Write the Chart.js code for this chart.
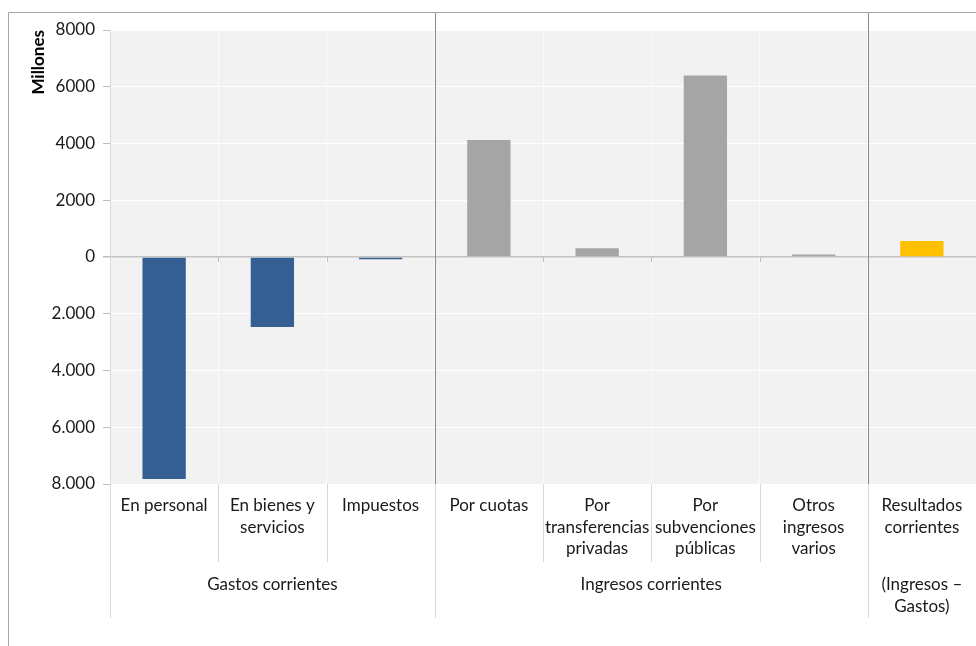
<!DOCTYPE html>
<html>
<head>
<meta charset="utf-8">
<script src="https://cdn.jsdelivr.net/npm/chart.js@4.4.1/dist/chart.umd.min.js"></script>
<style>
    html, body { margin: 0; padding: 0; background: #ffffff; }
    #wrap { width: 976px; height: 646px; position: relative; }
</style>
</head>
<body>
<div id="wrap"><canvas id="chart"></canvas></div>
<script>
// Chart data
const categories = [
    ['En personal'],
    ['En bienes y', 'servicios'],
    ['Impuestos'],
    ['Por cuotas'],
    ['Por', 'transferencias', 'privadas'],
    ['Por', 'subvenciones', 'públicas'],
    ['Otros', 'ingresos', 'varios'],
    ['Resultados', 'corrientes']
];
const values = [-7820, -2470, -80, 4120, 310, 6400, 90, 560];
const barColors = ['#355e92', '#355e92', '#355e92', '#a5a5a5', '#a5a5a5', '#a5a5a5', '#a5a5a5', '#ffc000'];

// Second row of the category axis
const groupLabels = [['Gastos corrientes'], ['Ingresos corrientes'], ['(Ingresos –', 'Gastos)']];
const groupFirst = [0, 3, 7];
const groupLast = [2, 6, 7];

const yMin = -8000;
const yMax = 8000;
const yStep = 2000;

const FONT = 'Lato, "Open Sans", sans-serif';
Chart.defaults.font.family = FONT;
Chart.defaults.color = '#1a1a1a';

// Background, group rows, separators and frame
const decorPlugin = {
    id: 'decor',
    beforeDraw(chart) {
        const { ctx, chartArea } = chart;
        ctx.save();
        ctx.fillStyle = '#f2f2f2';
        ctx.fillRect(chartArea.left, chartArea.top, chartArea.right - chartArea.left, chartArea.bottom - chartArea.top);
        ctx.restore();
    },
    afterDraw(chart) {
        const { ctx, chartArea } = chart;
        const x = chart.scales.x;
        const y = chart.scales.y;
        const colW = (chartArea.right - chartArea.left) / categories.length;
        const edge = i => x.getPixelForValue(i) - colW / 2;
        const zeroY = y.getPixelForValue(0);
        const frameTop = chartArea.top - 18;
        const frameLeft = chartArea.left - 102;

        ctx.save();
        ctx.lineWidth = 1;

        // small ticks under the zero line
        ctx.strokeStyle = '#bfbfbf';
        for (let i = 1; i <= categories.length; i++) {
            const px = Math.round(edge(i)) + 0.5;
            ctx.beginPath();
            ctx.moveTo(px, zeroY);
            ctx.lineTo(px, zeroY + 5);
            ctx.stroke();
        }

        // separators in the label rows
        ctx.strokeStyle = '#d9d9d9';
        for (let i = 0; i < categories.length; i++) {
            const isGroupStart = groupFirst.includes(i);
            const px = Math.round(edge(i)) + 0.5;
            ctx.beginPath();
            ctx.moveTo(px, chartArea.bottom);
            ctx.lineTo(px, chartArea.bottom + (isGroupStart ? 134 : 78));
            ctx.stroke();
        }

        // dark group separators across the plot
        ctx.strokeStyle = '#8c8c8c';
        groupFirst.slice(1).forEach(i => {
            const px = Math.round(edge(i)) + 0.5;
            ctx.beginPath();
            ctx.moveTo(px, frameTop);
            ctx.lineTo(px, chartArea.bottom);
            ctx.stroke();
        });

        // group labels
        ctx.fillStyle = '#1a1a1a';
        ctx.font = '17px ' + FONT;
        ctx.textAlign = 'center';
        ctx.textBaseline = 'middle';
        groupLabels.forEach((lines, g) => {
            const cx = (edge(groupFirst[g]) + edge(groupLast[g] + 1)) / 2;
            lines.forEach((t, k) => {
                ctx.fillText(t, cx, chartArea.bottom + 101 + k * 21.5);
            });
        });

        // outer frame
        ctx.strokeStyle = '#a6a6a6';
        ctx.beginPath();
        ctx.moveTo(frameLeft + 0.5, chart.height);
        ctx.lineTo(frameLeft + 0.5, frameTop + 0.5);
        ctx.lineTo(chart.width, frameTop + 0.5);
        ctx.stroke();
        ctx.restore();
    }
};

const ctx = document.getElementById('chart').getContext('2d');
new Chart(ctx, {
    type: 'bar',
    data: {
        labels: categories,
        datasets: [{
            data: values,
            backgroundColor: barColors,
            borderWidth: 0,
            categoryPercentage: 1.0,
            barPercentage: 0.4
        }]
    },
    options: {
        responsive: true,
        maintainAspectRatio: false,
        animation: false,
        layout: {
            padding: { top: 30, right: 0, bottom: 0, left: 0 }
        },
        plugins: {
            legend: { display: false },
            tooltip: { enabled: false }
        },
        scales: {
            x: {
                offset: true,
                border: { display: false },
                grid: {
                    display: true,
                    offset: true,
                    color: '#fbfbfb',
                    drawTicks: false
                },
                ticks: {
                    autoSkip: false,
                    maxRotation: 0,
                    padding: 11,
                    color: '#1a1a1a',
                    font: { size: 17, lineHeight: 1.27 }
                },
                afterFit(scale) {
                    scale.height = 162;
                }
            },
            y: {
                min: yMin,
                max: yMax,
                border: { display: true, color: '#d9d9d9' },
                grid: {
                    color: c => (c.tick.value === 0 ? '#c4c4c4' : '#ffffff'),
                    lineWidth: c => (c.tick.value === 0 ? 1.5 : 1),
                    tickColor: '#bfbfbf',
                    tickLength: 7
                },
                ticks: {
                    stepSize: yStep,
                    padding: 8,
                    color: '#1a1a1a',
                    font: { size: 17 },
                    callback: v => (v < 0 ? Math.abs(v).toLocaleString('de-DE') : String(v))
                },
                title: {
                    display: true,
                    text: 'Millones',
                    align: 'end',
                    color: '#000000',
                    padding: { top: 28, bottom: 0 },
                    font: { size: 17, weight: 'bold' }
                },
                afterFit(scale) {
                    scale.width = 110;
                }
            }
        }
    },
    plugins: [decorPlugin]
});
</script>
</body>
</html>
